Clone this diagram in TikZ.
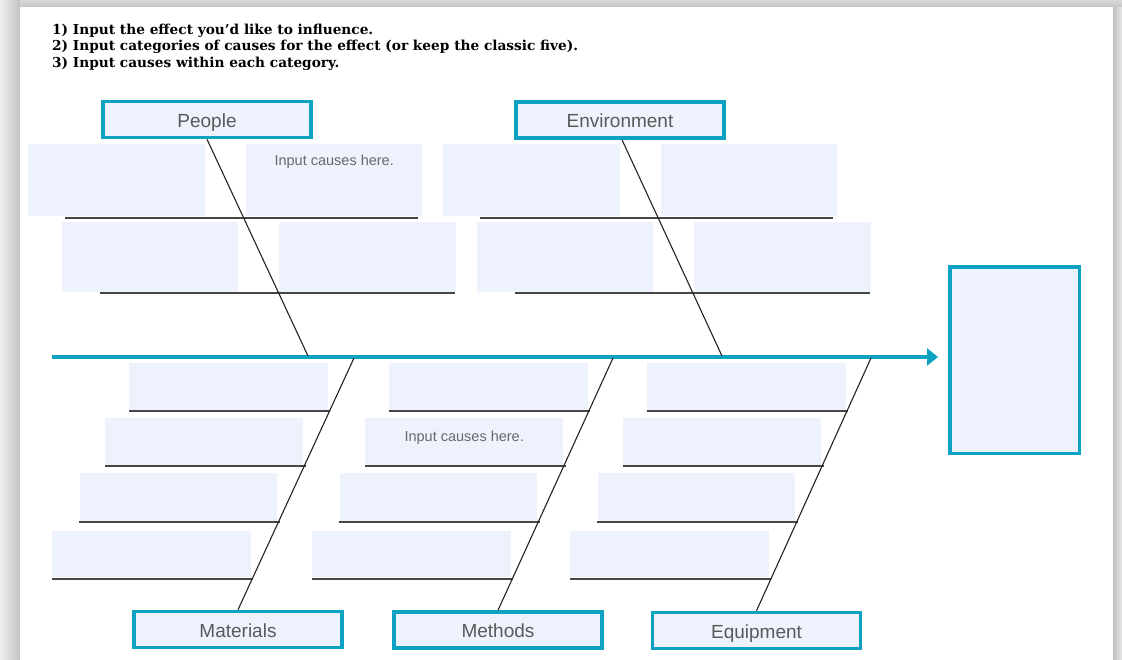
\documentclass[tikz,border=0pt]{standalone}
\usepackage{fontspec}
\setmainfont{Liberation Sans}
\newfontfamily\hdrfont{DejaVu Serif}
\usetikzlibrary{arrows.meta}
\definecolor{teal1}{RGB}{14,162,194}
\definecolor{boxfill}{RGB}{238,242,253}
\definecolor{labelgray}{RGB}{89,89,89}
\definecolor{hintgray}{RGB}{105,105,105}
\definecolor{ribgray}{RGB}{70,70,70}
\definecolor{bonegray}{RGB}{35,35,35}
\tikzset{
  catbox/.style={draw=teal1, line width=3.5pt, fill=boxfill, inner sep=0pt,
    minimum width=208pt, minimum height=36pt, text=labelgray,
    text height=15pt, text depth=0pt,
    font=\fontsize{19}{22}\selectfont},
  effectbox/.style={draw=teal1, line width=3.5pt, fill=boxfill, inner sep=0pt},
  causebox/.style={fill=boxfill, inner sep=0pt, anchor=north west},
  hint/.style={text=hintgray, inner sep=0pt, anchor=north, font=\fontsize{14.5}{17}\selectfont},
  rib/.style={draw=ribgray, line width=1.8pt},
  bone/.style={draw=bonegray, line width=1.1pt},
  spine/.style={draw=teal1, line width=4pt, -{Triangle[length=11pt,width=17pt]}},
}
\newcommand\cbox[5]{\node[causebox, minimum width={(#4-#2)*1pt}, minimum height={(#5-#3)*1pt}] (#1) at (#2,#3) {};}
\newcommand\ribline[4]{\coordinate (#1a) at (#2,#4); \coordinate (#1b) at (#3,#4); \draw[rib] (#1a) -- (#1b);}
\newcommand\topgroup[2]{%
  \begin{scope}[xshift=#2pt]
    \cbox{#1A}{28}{144}{205}{216}
    \cbox{#1B}{246}{144}{422}{216}
    \ribline{#1L1}{65}{418}{218}
    \cbox{#1C}{62}{222}{238}{292}
    \cbox{#1D}{279}{222}{456}{292}
    \ribline{#1L2}{100}{455}{293}
  \end{scope}}
\newcommand\botgroup[2]{%
  \begin{scope}[xshift=#2pt]
    \cbox{#1A}{129}{363}{328}{410}
    \ribline{#1L1}{129}{330}{411}
    \cbox{#1B}{105}{418}{303}{465}
    \ribline{#1L2}{105}{306}{466}
    \cbox{#1C}{80}{473}{277}{521}
    \ribline{#1L3}{79}{280}{522}
    \cbox{#1D}{52}{531}{251}{577}
    \ribline{#1L4}{52}{253}{579}
  \end{scope}}
\begin{document}
\begin{tikzpicture}[x=1pt,y=-1pt]
\useasboundingbox (0,0) rectangle (1122,659);
% page and shadow
\fill[gray!30] (0,0) rectangle (1122,659);
\shade[left color=gray!12, right color=gray!48] (0,0) rectangle (20,659);
\shade[top color=gray!30, bottom color=gray!45] (20,0) rectangle (1122,7);
\shade[left color=gray!48, right color=gray!20] (1113,7) rectangle (1122,659);
\fill[white] (20,7) rectangle (1113,659);

% instructions
\node[anchor=north west, align=left, inner sep=0pt,
  font=\hdrfont\bfseries\fontsize{13.7}{16.3}\selectfont] (instr) at (52,24)
  {1) Input the effect you’d like to influence.\\
   2) Input categories of causes for the effect (or keep the classic five).\\
   3) Input causes within each category.};

% cause boxes and rib lines
\topgroup{pe}{0}
\topgroup{en}{415}
\botgroup{ma}{0}
\botgroup{me}{260}
\botgroup{eq}{518}
\node[hint] (peHint) at ([yshift=-11pt]peB.north) {Input causes here.};
\node[hint] (meHint) at ([yshift=-13pt]meB.north) {Input causes here.};

% category boxes
\node[catbox] (people) at (207,119.5) {People};
\node[catbox] (environment) at (620,120) {Environment};
\node[catbox] (materials) at (238,629.5) {Materials};
\node[catbox] (methods) at (498,630) {Methods};
\node[catbox] (equipment) at (756.5,630.5) {Equipment};

% effect box
\node[effectbox, minimum width=129.5pt, minimum height=186.5pt] (effect) at (1014.5,360) {};

% spine
\coordinate (tail) at (52,357);
\draw[spine] (tail) -- ([xshift=-10pt]effect.west |- tail);

% bones
\coordinate (jPeople) at (308,356);
\coordinate (jEnv) at (722,356);
\coordinate (jMat) at (354,358);
\coordinate (jMeth) at (613,358);
\coordinate (jEq) at (871,358);
\draw[bone] (people.south) -- (jPeople);
\draw[bone] ([xshift=2pt]environment.south) -- (jEnv);
\draw[bone] (materials.north) -- (jMat);
\draw[bone] (methods.north) -- (jMeth);
\draw[bone] (equipment.north) -- (jEq);
\end{tikzpicture}
\end{document}
